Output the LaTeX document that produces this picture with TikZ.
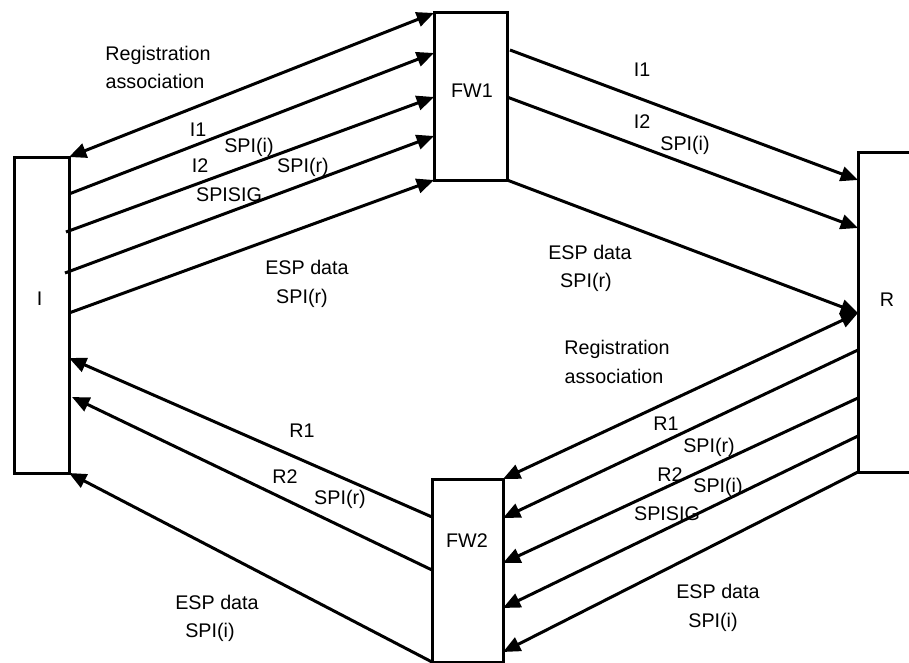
\documentclass[tikz,border=0pt]{standalone}
\usepackage{fontspec}
\setmainfont{Liberation Sans}
\usetikzlibrary{calc,arrows.meta}
\begin{document}
\begin{tikzpicture}[x=0.75pt,y=-0.75pt,
  box/.style={draw,line width=2.25pt,rectangle,inner sep=0pt,outer sep=0pt},
  arr/.style={line width=2.25pt,-{Triangle[length=13pt,width=11pt]}},
  darr/.style={line width=2.25pt,{Triangle[length=13pt,width=11pt]}-{Triangle[length=13pt,width=11pt]}},
  lbl/.style={anchor=base,inner sep=0pt,font=\fontsize{14.8}{17}\selectfont}]
\useasboundingbox (0,0) rectangle (909,663);
\clip (0,0) rectangle (909,663);
% boxes
\node[box,minimum width=41.25pt,minimum height=237pt] (I) at (41.5,315) {};
\node[box,minimum width=54.75pt,minimum height=125.25pt] (FW1) at (470.5,96.5) {};
\node[box,minimum width=43.5pt,minimum height=239.25pt] (R) at (887,312.5) {};
\node[box,minimum width=53.25pt,minimum height=137.25pt] (FW2) at (467.5,570.5) {};
% box texts
\node[lbl] (tI) at (39.5,305) {I};
\node[lbl] (tFW1) at (472,98) {FW1};
\node[lbl] (tR) at (887,306) {R};
\node[lbl] (tFW2) at (467,547) {FW2};
% I <-> FW1
\draw[darr] (I.north east) -- (FW1.north west);
\draw[arr] ($(I.north east)+(0,37)$) -- ($(FW1.north west)+(0,40)$);
\draw[arr] ($(I.north east)+(-3,75)$) -- ($(FW1.north west)+(0,84)$);
\draw[arr] ($(I.north east)+(-4,116)$) -- ($(FW1.north west)+(0,123)$);
\draw[arr] ($(I.north east)+(0,156)$) -- (FW1.south west);
% FW1 -> R
\draw[arr] ($(FW1.north east)+(3,37)$) -- ($(R.north west)+(0,27)$);
\draw[arr] ($(FW1.north east)+(0,84)$) -- ($(R.north west)+(0,75)$);
\draw[arr] (FW1.south east) -- ($(R.north west)+(0,160)$);
% R -> FW2
\draw[darr] (FW2.north east) -- ($(R.north west)+(0,160)$);
\draw[arr] ($(R.north west)+(0,197)$) -- ($(FW2.north east)+(0,39)$);
\draw[arr] ($(R.north west)+(0,245)$) -- ($(FW2.north east)+(0,84)$);
\draw[arr] ($(R.north west)+(0,283)$) -- ($(FW2.north east)+(0,129)$);
\draw[arr] (R.south west) -- ($(FW2.north east)+(0,173)$);
% FW2 -> I
\draw[arr] ($(FW2.north west)+(0,38)$) -- ($(I.north east)+(0,201)$);
\draw[arr] ($(FW2.north west)+(0,91)$) -- ($(I.north east)+(3,240)$);
\draw[arr] (FW2.south west) -- (I.south east);
% labels top-left
\node[lbl] (l1) at (158,61) {Registration};
\node[lbl] (l2) at (155,89) {association};
\node[lbl] (l3) at (198,137) {I1};
\node[lbl] (l4) at (249,152) {SPI(i)};
\node[lbl] (l5) at (200,172) {I2};
\node[lbl] (l6) at (303,172) {SPI(r)};
\node[lbl] (l7) at (229,201) {SPISIG};
\node[lbl] (l8) at (307,274) {ESP data};
\node[lbl] (l9) at (302,303) {SPI(r)};
% labels top-right
\node[lbl] (m1) at (642,77) {I1};
\node[lbl] (m2) at (642,129) {I2};
\node[lbl] (m3) at (685,151) {SPI(i)};
\node[lbl] (m4) at (590,259) {ESP data};
\node[lbl] (m5) at (586,287) {SPI(r)};
% labels bottom-right
\node[lbl] (n1) at (617,354) {Registration};
\node[lbl] (n2) at (614,383) {association};
\node[lbl] (n3) at (666,430) {R1};
\node[lbl] (n4) at (709,452) {SPI(r)};
\node[lbl] (n5) at (670,481) {R2};
\node[lbl] (n6) at (718,492) {SPI(i)};
\node[lbl] (n7) at (667,520) {SPISIG};
\node[lbl] (n8) at (718,598) {ESP data};
\node[lbl] (n9) at (713,627) {SPI(i)};
% labels bottom-left
\node[lbl] (o1) at (302,437) {R1};
\node[lbl] (o2) at (285,483) {R2};
\node[lbl] (o3) at (340,504) {SPI(r)};
\node[lbl] (o4) at (217,609) {ESP data};
\node[lbl] (o5) at (210,637) {SPI(i)};
\end{tikzpicture}
\end{document}
